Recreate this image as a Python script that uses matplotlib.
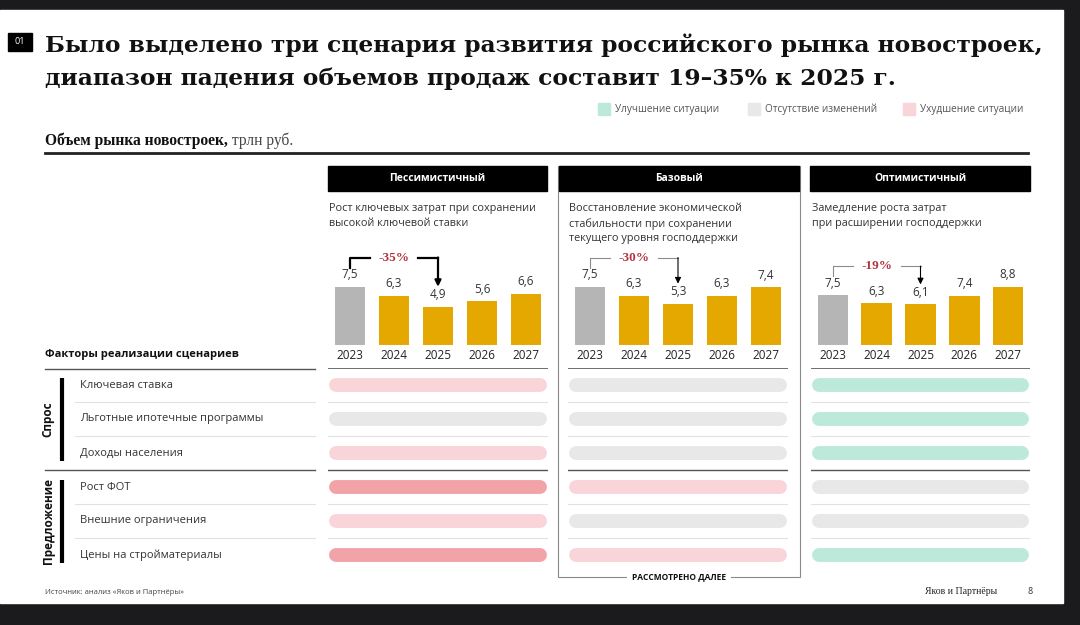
import matplotlib.pyplot as plt
from matplotlib.patches import Rectangle

# --- data ---
years = ['2023', '2024', '2025', '2026', '2027']
scenarios = ['Пессимистичный', 'Базовый', 'Оптимистичный']
descriptions = ['Рост ключевых затрат при сохранении\nвысокой ключевой ставки',
                'Восстановление экономической\nстабильности при сохранении\nтекущего уровня господдержки',
                'Замедление роста затрат\nпри расширении господдержки']
volume_pess = [7.5, 6.3, 4.9, 5.6, 6.6]
volume_base = [7.5, 6.3, 5.3, 6.3, 7.4]
volume_opt = [7.5, 6.3, 6.1, 7.4, 8.8]
drops = ['-35%', '-30%', '-19%']

factor_groups = ['Спрос', 'Предложение']
factors = ['Ключевая ставка', 'Льготные ипотечные программы', 'Доходы населения',
           'Рост ФОТ', 'Внешние ограничения', 'Цены на стройматериалы']
# 1 = улучшение, 0 = без изменений, -1 = ухудшение, -2 = сильное ухудшение
status_pess = [-1, 0, -1, -2, -1, -2]
status_base = [0, 0, 0, -1, 0, -1]
status_opt = [1, 1, 1, 0, 0, 1]
legend_labels = ['Улучшение ситуации', 'Отсутствие изменений', 'Ухудшение ситуации']

status_colors = {1: '#bde9da', 0: '#e8e8e8', -1: '#f9d4d8', -2: '#f2a3a8'}
GOLD = '#e5a800'
SANS = ['Open Sans', 'DejaVu Sans']
SERIF = ['Liberation Serif', 'DejaVu Serif']
TITLE_SERIF = ['DejaVu Serif']
plt.rcParams['font.family'] = SANS

W, H = 1080, 625
fig = plt.figure(figsize=(10.8, 6.25), dpi=100, facecolor='#1b1b1d')


def px_box(x0, y0, x1, y1):
    return [x0 / W, 1 - y1 / H, (x1 - x0) / W, (y1 - y0) / H]


bg = fig.add_axes([0, 0, 1, 1])
bg.set_xlim(0, W)
bg.set_ylim(H, 0)
bg.axis('off')
bg.add_patch(Rectangle((0, 10), 1063, 593, color='white', zorder=0))

# title
bg.add_patch(Rectangle((8, 33), 24, 18, color='black'))
bg.text(20, 42, '01', color='white', fontsize=6.5, ha='center', va='center')
bg.text(45, 52, 'Было выделено три сценария развития российского рынка новостроек,',
        family=TITLE_SERIF, weight='bold', fontsize=16.8, color='#111111', va='baseline')
bg.text(45, 85, 'диапазон падения объемов продаж составит 19–35% к 2025 г.',
        family=TITLE_SERIF, weight='bold', fontsize=16.8, color='#111111', va='baseline')

# legend
for x, st, lab in zip([598, 748, 903], [1, 0, -1], legend_labels):
    bg.add_patch(Rectangle((x, 103), 12, 12, color=status_colors[st]))
    bg.text(x + 17, 109.5, lab, fontsize=7.2, color='#555555', va='center')

# subtitle
t = bg.text(45, 145, 'Объем рынка новостроек,', family=SERIF, weight='bold',
            fontsize=11.2, color='#111111', va='baseline')
bg.annotate(' трлн руб.', xy=(1, 0), xycoords=t, family=SERIF, fontsize=11.2,
            color='#444444', va='bottom')
bg.plot([45, 1028], [153, 153], color='#222222', lw=2)

# left column of factors
bg.text(45, 354, 'Факторы реализации сценариев', weight='bold', fontsize=8,
        color='#111111', va='center')
bg.plot([45, 315], [369, 369], color='#555555', lw=1)
bg.plot([45, 315], [470, 470], color='#555555', lw=1)
for y in [402, 436, 504, 538]:
    bg.plot([75, 315], [y, y], color='#e2e2e2', lw=0.8)
for i, f in enumerate(factors):
    bg.text(80, 385 + 34 * i, f, fontsize=8, color='#333333', va='center')
for g, (y0, y1) in zip(factor_groups, [(378, 461), (480, 563)]):
    bg.plot([62, 62], [y0, y1], color='black', lw=3, solid_capstyle='butt')
    bg.text(48, (y0 + y1) / 2, g, rotation=90, weight='bold', fontsize=8.5,
            color='#111111', ha='center', va='center')

# scenario panels
volumes = [volume_pess, volume_base, volume_opt]
statuses = [status_pess, status_base, status_opt]
headers = [(328, 547), (559, 799), (810, 1030)]
panels = [(328, 548), (568, 788), (811, 1030)]
heavy = [True, False, False]

# outline around the base scenario
bg.add_patch(Rectangle((558, 166), 242, 411, fill=False, edgecolor='#8a8a8a', lw=0.8))
bg.text(679, 577, 'РАССМОТРЕНО ДАЛЕЕ', weight='bold', fontsize=6, color='#111111',
        ha='center', va='center',
        bbox=dict(boxstyle='square,pad=0.6', facecolor='white', edgecolor='none'))

for k in range(3):
    hx0, hx1 = headers[k]
    bg.add_patch(Rectangle((hx0, 166), hx1 - hx0, 25, color='black'))
    bg.text((hx0 + hx1) / 2, 178.5, scenarios[k], color='white', weight='bold',
            fontsize=7.5, ha='center', va='center')
    px0, px1 = panels[k]
    bg.text(px0 + 1, 203, descriptions[k], fontsize=7.8, color='#333333',
            va='top', linespacing=1.45)

    # bar chart
    vals = volumes[k]
    ax = fig.add_axes(px_box(px0, 230, px1, 345))
    ppu = 58.5 / max(vals)          # pixels per unit
    ax.set_ylim(0, 115 / ppu)
    ax.set_xlim(-0.5, 4.5)
    ax.axis('off')
    ax.bar(range(5), vals, width=0.7, color=['#b5b5b5'] + [GOLD] * 4)
    ax.axhline(0, color='#dddddd', lw=0.8)
    for i, v in enumerate(vals):
        ax.annotate(f'{v:.1f}'.replace('.', ','), (i, v), xytext=(0, 4),
                    textcoords='offset points', ha='center', va='bottom',
                    fontsize=8.5, color='#333333')
        ax.annotate(years[i], (i, 0), xytext=(0, -3), textcoords='offset points',
                    ha='center', va='top', fontsize=8.5, color='#222222')

    # drop bracket 2023 -> 2025
    top = vals[0] + 29 / ppu
    low = vals[0] + 19 / ppu
    lc = 'black' if heavy[k] else '#8c8c8c'
    lw = 1.6 if heavy[k] else 0.8
    ax.plot([0, 0, 0.45], [low, top, top], color=lc, lw=lw, clip_on=False)
    ax.plot([1.55, 2], [top, top], color=lc, lw=lw, clip_on=False)
    ax.annotate('', xy=(2, vals[2] + 20 / ppu), xytext=(2, top),
                arrowprops=dict(arrowstyle='-|>', color='black', lw=lw,
                                shrinkA=0, shrinkB=0, mutation_scale=9))
    ax.text(1, top, drops[k], family=SERIF, weight='bold', fontsize=9.5,
            color='#b23440', ha='center', va='center')

    # factor pills
    pa = fig.add_axes(px_box(px0, 368, px1, 572))
    w = px1 - px0
    pa.set_xlim(0, w)
    pa.set_ylim(5.5, -0.5)
    pa.axis('off')
    pa.axhline(-0.5, color='#555555', lw=1.2)
    pa.axhline(2.5, color='#555555', lw=1)
    for y in [0.5, 1.5, 3.5, 4.5]:
        pa.axhline(y, color='#e2e2e2', lw=0.8)
    for i, st in enumerate(statuses[k]):
        pa.plot([8, w - 8], [i, i], color=status_colors[st], lw=10,
                solid_capstyle='round')

# footer
bg.text(45, 592, 'Источник: анализ «Яков и Партнёры»', fontsize=5.5, color='#444444',
        va='center')
bg.text(925, 592, 'Яков и Партнёры', family=SERIF, fontsize=7, color='#222222',
        va='center')
bg.text(1027, 592, '8', fontsize=6.5, color='#333333', va='center')

fig.savefig('out.png', dpi=100, facecolor=fig.get_facecolor())
